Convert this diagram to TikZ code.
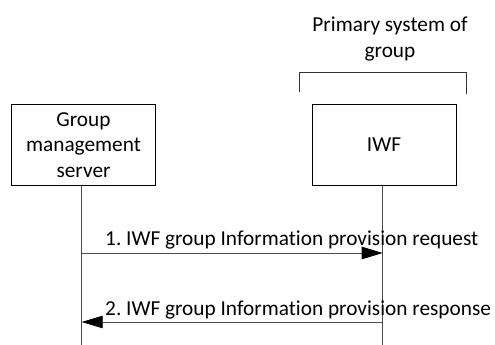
\documentclass[tikz,border=0pt]{standalone}
\usepackage{fontspec}
\setmainfont[Ligatures=NoCommon]{Carlito}
\usetikzlibrary{arrows.meta}
\frenchspacing

\begin{document}
\begin{tikzpicture}[x=1pt,y=-1pt]
\tikzstyle{entity}=[
	rectangle,
	draw,
	line width=0.8pt,
	minimum width=144pt,
	minimum height=81.5pt,
	align=center,
	font=\fontsize{21.3}{25.5}\selectfont ]
\tikzstyle{msg}=[
	anchor=base west,
	inner sep=0pt,
	font=\fontsize{21.3}{25.5}\selectfont ]
\tikzstyle{lifeline}=[draw=black!70, line width=0.8pt]
\tikzstyle{message}=[lifeline, -{Triangle[length=21pt,width=12.5pt,black]}]
\useasboundingbox (0,0) rectangle (495,345);
% entities
\node[entity] (gms) at (83.5,144.75) {Group\\management\\server};
\node[entity] (iwf) at (384,144.75) {IWF};
% primary system bracket
\node[align=center, font=\fontsize{21.3}{25.5}\selectfont] (psg) at (390,39) {Primary system of\\group};
\coordinate (bl) at (299.5,92);
\coordinate (br) at (466,94);
\draw[line width=0.8pt, draw=black!80] (bl) -- (299.5,72) -- (466,72) -- (br);
% lifelines
\coordinate (gmsend) at (81.7,345);
\coordinate (iwfend) at (382.7,345);
\draw[lifeline] (81.7,185.5) -- (gmsend);
\draw[lifeline] (382.7,185.5) -- (iwfend);
% messages
\coordinate (req1) at (81.7,253);
\coordinate (req2) at (382.7,253);
\coordinate (rsp1) at (382.7,322);
\coordinate (rsp2) at (81.7,322);
\draw[message] (req1) -- (req2);
\draw[message] (rsp1) -- (rsp2);
\node[msg] (lreq) at (105,245) {1. IWF group Information provision request};
\node[msg] (lrsp) at (105,315) {2. IWF group Information provision response};
\end{tikzpicture}
\end{document}
